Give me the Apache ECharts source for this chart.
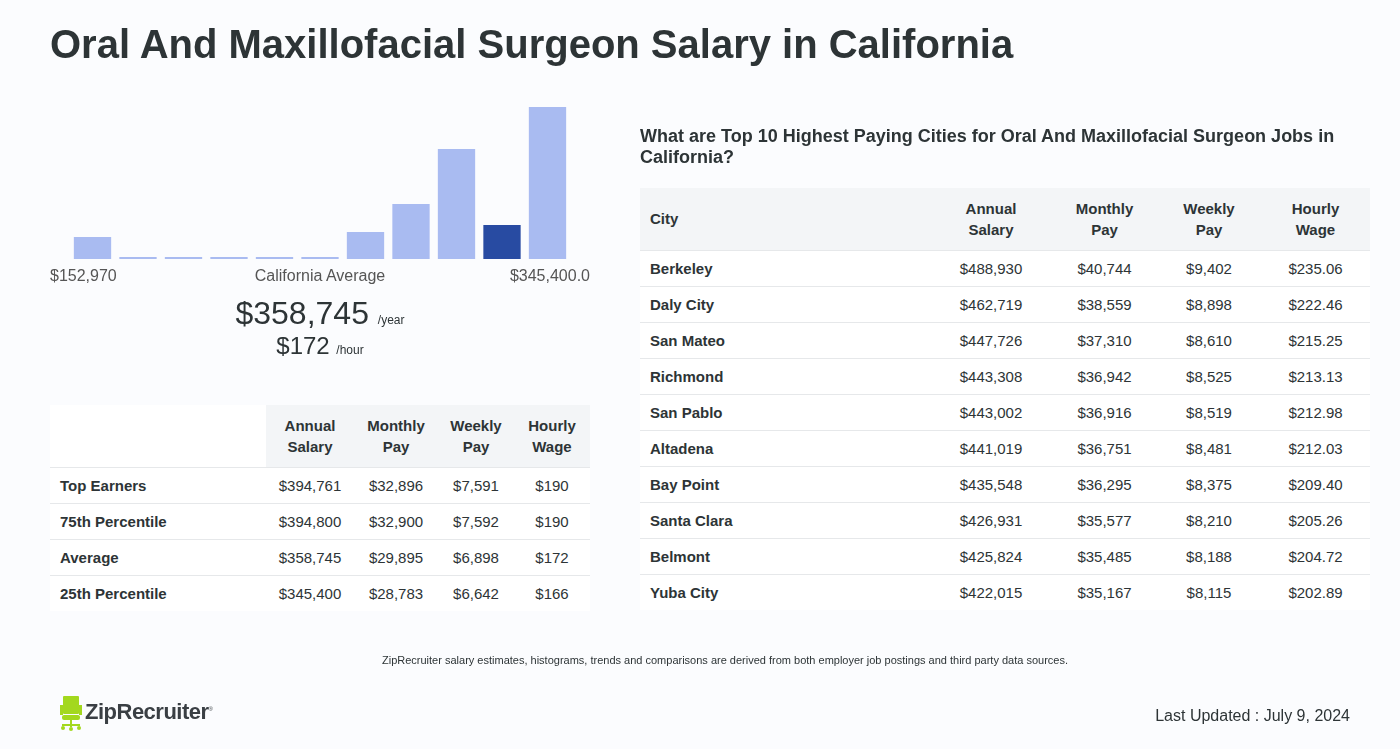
<!DOCTYPE html>
<html><head><meta charset="utf-8">
<script src="https://cdn.jsdelivr.net/npm/echarts@6/dist/echarts.min.js"></script>
<style>
html,body{margin:0;padding:0;width:1400px;height:749px;background:#fbfcfe;font-family:"Liberation Sans",Arial,sans-serif;color:#2d3436;overflow:hidden;position:relative}
#chart{position:absolute;left:0;top:0;width:1400px;height:749px}
.abs{position:absolute}
h1{position:absolute;left:50px;top:22px;margin:0;font-size:40px;font-weight:bold;color:#2d3436;letter-spacing:0}
table{border-collapse:collapse;position:absolute;font-size:15px;color:#2d3436}
td,th{padding:0;text-align:center}
th{font-weight:bold;line-height:21px;background:#f3f5f7}
tbody tr{height:36px;border-top:1px solid #e6e8ea;background:#fff}
tbody td:first-child{text-align:left;padding-left:10px;font-weight:bold}
</style></head><body>
<div id="chart"></div>
<h1>Oral And Maxillofacial Surgeon Salary in California</h1>
<div class="abs" id="lblL" style="left:50px;top:267px;font-size:16px;color:#555"></div>
<div class="abs" id="lblC" style="left:50px;width:540px;text-align:center;top:267px;font-size:16px;color:#555"></div>
<div class="abs" id="lblR" style="left:50px;width:540px;text-align:right;top:267px;font-size:16px;color:#555"></div>
<div class="abs" style="left:50px;width:540px;text-align:center;top:295px;font-size:32px;color:#2d3436"><span id="avgY"></span> <span style="font-size:12px">/year</span></div>
<div class="abs" style="left:50px;width:540px;text-align:center;top:332px;font-size:24px;color:#2d3436"><span id="avgH"></span> <span style="font-size:12px">/hour</span></div>
<table id="tl" style="left:50px;top:405px;width:540px"></table>
<div class="abs" style="left:640px;top:126px;width:720px;font-size:18px;font-weight:bold;line-height:21px;color:#2d3436">What are Top 10 Highest Paying Cities for Oral And Maxillofacial Surgeon Jobs in California?</div>
<table id="tr" style="left:640px;top:188px;width:730px"></table>
<div class="abs" style="left:0;width:1450px;text-align:center;top:654px;font-size:11px;color:#2d3436">ZipRecruiter salary estimates, histograms, trends and comparisons are derived from both employer job postings and third party data sources.</div>
<div class="abs" style="left:59px;top:695px">
<svg width="24" height="36" viewBox="0 0 24 36">
<rect x="4" y="1" width="16" height="18" rx="1" fill="#a3d81e"/>
<rect x="1" y="10" width="3" height="10" fill="#a3d81e"/>
<rect x="20" y="10" width="3" height="10" fill="#a3d81e"/>
<rect x="3" y="20" width="18" height="5" rx="2" fill="#a3d81e"/>
<rect x="11" y="25" width="2" height="7" fill="#a3d81e"/>
<rect x="3" y="29" width="18" height="2" fill="#a3d81e"/>
<circle cx="4" cy="33" r="2" fill="#a3d81e"/><circle cx="12" cy="34" r="2" fill="#a3d81e"/><circle cx="20" cy="33" r="2" fill="#a3d81e"/>
</svg></div>
<div class="abs" style="left:85px;top:699px;font-size:22px;font-weight:bold;color:#3a3f44;letter-spacing:-0.5px">ZipRecruiter<sup style="font-size:6px;font-weight:normal">®</sup></div>
<div class="abs" style="right:50px;top:707px;font-size:16px;color:#2d3436">Last Updated : July 9, 2024</div>
<script>
// Histogram (relative bar heights)
const binIndex = [1,2,3,4,5,6,7,8,9,10,11];
const binValues = [22,2,2,2,2,2,27,55,110,34,152];
const highlightBin = 9; // index of dark bar
const lowLabel = "$152,970";
const midLabel = "California Average";
const highLabel = "$345,400.0";
const avgYear = "$358,745";
const avgHour = "$172";

const statHeaders = ["", "Annual<br>Salary", "Monthly<br>Pay", "Weekly<br>Pay", "Hourly<br>Wage"];
const statRows = ["Top Earners","75th Percentile","Average","25th Percentile"];
const statAnnual = ["$394,761","$394,800","$358,745","$345,400"];
const statMonthly = ["$32,896","$32,900","$29,895","$28,783"];
const statWeekly = ["$7,591","$7,592","$6,898","$6,642"];
const statHourly = ["$190","$190","$172","$166"];

const cityHeaders = ["City", "Annual<br>Salary", "Monthly<br>Pay", "Weekly<br>Pay", "Hourly<br>Wage"];
const cities = ["Berkeley","Daly City","San Mateo","Richmond","San Pablo","Altadena","Bay Point","Santa Clara","Belmont","Yuba City"];
const cityAnnual = ["$488,930","$462,719","$447,726","$443,308","$443,002","$441,019","$435,548","$426,931","$425,824","$422,015"];
const cityMonthly = ["$40,744","$38,559","$37,310","$36,942","$36,916","$36,751","$36,295","$35,577","$35,485","$35,167"];
const cityWeekly = ["$9,402","$8,898","$8,610","$8,525","$8,519","$8,481","$8,375","$8,210","$8,188","$8,115"];
const cityHourly = ["$235.06","$222.46","$215.25","$213.13","$212.98","$212.03","$209.40","$205.26","$204.72","$202.89"];

document.getElementById('lblL').textContent = lowLabel;
document.getElementById('lblC').textContent = midLabel;
document.getElementById('lblR').textContent = highLabel;
document.getElementById('avgY').textContent = avgYear;
document.getElementById('avgH').textContent = avgHour;

function buildTable(id, headers, labels, cols, widths, headH, firstHeaderBg){
  const t = document.getElementById(id);
  let h = '<colgroup>' + widths.map(w=>'<col style="width:'+w+'px">').join('') + '</colgroup>';
  h += '<thead><tr style="height:'+headH+'px">';
  headers.forEach((x,i)=>{
    let st = '';
    if(i===0){ st = 'text-align:left;padding-left:10px;' + (firstHeaderBg ? '' : 'background:#fff;'); }
    h += '<th style="'+st+'">'+x+'</th>';
  });
  h += '</tr></thead><tbody>';
  labels.forEach((l,r)=>{
    h += '<tr><td>'+l+'</td>' + cols.map(c=>'<td>'+c[r]+'</td>').join('') + '</tr>';
  });
  h += '</tbody>';
  t.innerHTML = h;
}
buildTable('tl', statHeaders, statRows, [statAnnual,statMonthly,statWeekly,statHourly], [216,88,84,76,76], 62, false);
buildTable('tr', cityHeaders, cities, [cityAnnual,cityMonthly,cityWeekly,cityHourly], [290,122,105,104,109], 62, true);

const chart = echarts.init(document.getElementById('chart'), null, {renderer:'canvas'});
chart.setOption({
  animation:false,
  grid:{left:69.75, top:100, width:500.5, height:159},
  xAxis:{type:'category', data:binIndex, show:false},
  yAxis:{type:'value', min:0, max:159, show:false},
  series:[{
    type:'bar',
    barCategoryGap:'18%',
    data: binValues.map((v,i)=>({value:v, itemStyle:{color: i===highlightBin ? '#284ba2' : '#a9bbf1'}}))
  }]
});
</script>
</body></html>
